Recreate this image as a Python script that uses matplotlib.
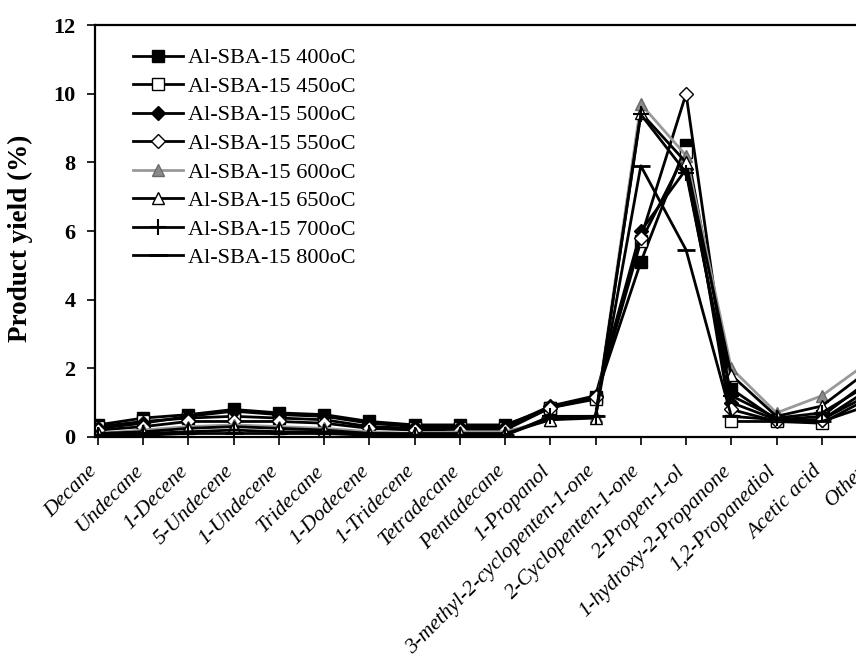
import matplotlib
matplotlib.use("Agg")
import matplotlib.pyplot as plt
import matplotlib.transforms as mtransforms
import numpy as np

plt.rcParams['font.family'] = ['Liberation Serif', 'DejaVu Serif']

products = ['Decane', 'Undecane', '1-Decene', '5-Undecene', '1-Undecene',
            'Tridecane', '1-Dodecene', '1-Tridecene', 'Tetradecane',
            'Pentadecane', '1-Propanol', '3-methyl-2-cyclopenten-1-one',
            '2-Cyclopenten-1-one', '2-Propen-1-ol', '1-hydroxy-2-Propanone',
            '1,2-Propanediol', 'Acetic acid', 'Other']

y400 = [0.35, 0.55, 0.65, 0.80, 0.70, 0.65, 0.45, 0.35, 0.35, 0.35, 0.85, 1.15, 5.10, 8.50, 1.40, 0.50, 0.60, 1.60]
y450 = [0.30, 0.45, 0.55, 0.60, 0.55, 0.50, 0.30, 0.25, 0.25, 0.25, 0.85, 1.10, 5.70, 8.30, 0.45, 0.45, 0.40, 1.10]
y500 = [0.25, 0.40, 0.60, 0.75, 0.65, 0.60, 0.40, 0.30, 0.30, 0.30, 0.90, 1.20, 6.00, 7.80, 1.00, 0.50, 0.50, 1.35]
y550 = [0.20, 0.30, 0.45, 0.45, 0.45, 0.40, 0.25, 0.20, 0.20, 0.20, 0.85, 1.15, 5.80, 10.00, 0.80, 0.45, 0.50, 1.20]
y600 = [0.10, 0.20, 0.30, 0.35, 0.30, 0.25, 0.15, 0.10, 0.15, 0.15, 0.50, 0.60, 9.70, 8.20, 2.00, 0.70, 1.20, 2.15]
y650 = [0.10, 0.15, 0.25, 0.30, 0.25, 0.20, 0.10, 0.10, 0.10, 0.10, 0.50, 0.55, 9.45, 8.00, 1.80, 0.60, 0.90, 1.90]
y700 = [0.05, 0.10, 0.15, 0.20, 0.15, 0.15, 0.10, 0.05, 0.05, 0.05, 0.60, 0.60, 9.40, 7.70, 1.20, 0.55, 0.70, 1.50]
y800 = [0.05, 0.05, 0.10, 0.10, 0.10, 0.10, 0.05, 0.05, 0.05, 0.05, 0.55, 0.60, 7.90, 5.45, 0.60, 0.50, 0.45, 0.90]

x = np.arange(len(products))

fig = plt.figure(figsize=(8.56, 6.62), dpi=100)
ax = fig.add_axes([0.111, 0.340, 0.923, 0.622])

ax.plot(x, y400, '-', color='black', lw=2, marker='s', ms=8, mfc='black', mec='black', label='Al-SBA-15 400oC')
ax.plot(x, y450, '-', color='black', lw=2, marker='s', ms=8, mfc='white', mec='black', label='Al-SBA-15 450oC')
ax.plot(x, y500, '-', color='black', lw=2, marker='D', ms=7, mfc='black', mec='black', label='Al-SBA-15 500oC')
ax.plot(x, y550, '-', color='black', lw=2, marker='D', ms=7, mfc='white', mec='black', label='Al-SBA-15 550oC')
ax.plot(x, y600, '-', color='#999999', lw=2, marker='^', ms=9, mfc='#8a8a8a', mec='#6a6a6a', label='Al-SBA-15 600oC')
ax.plot(x, y650, '-', color='black', lw=2, marker='^', ms=9, mfc='white', mec='black', label='Al-SBA-15 650oC')
ax.plot(x, y700, '-', color='black', lw=2, marker='+', ms=11, mew=1.5, label='Al-SBA-15 700oC')
ax.plot(x, y800, '-', color='black', lw=2, marker='_', ms=13, mew=2, label='Al-SBA-15 800oC')

ax.set_xlim(-0.066, 17.4)
ax.set_ylim(0, 12)
ax.set_yticks(np.arange(0, 13, 2))
ax.set_yticklabels([str(v) for v in range(0, 13, 2)], fontsize=16, fontweight='bold')
ax.set_xticks(x)
ax.set_xticklabels(products, rotation=45, ha='right', va='top', rotation_mode='anchor',
                   fontsize=15.5, style='italic')
ax.tick_params(axis='both', direction='out', length=6, width=1.2)
ax.tick_params(axis='y', pad=8)
ax.tick_params(axis='x', pad=4)
for s in ax.spines.values():
    s.set_linewidth(1.6)

# push the slanted category names down and slightly left of their ticks
shift = mtransforms.ScaledTranslation(-0.10, -0.11, fig.dpi_scale_trans)
for lbl in ax.get_xticklabels():
    lbl.set_transform(lbl.get_transform() + shift)

ax.set_ylabel('Product yield (%)', fontsize=19.5, fontweight='bold')
ax.yaxis.set_label_coords(-0.078, 0.483)

ax.legend(loc='upper left', bbox_to_anchor=(0.048, 0.945), frameon=False,
          fontsize=16, handlelength=2.25, handletextpad=0.25, labelspacing=0.36,
          borderaxespad=0, borderpad=0)

fig.savefig('out.png', dpi=100)
